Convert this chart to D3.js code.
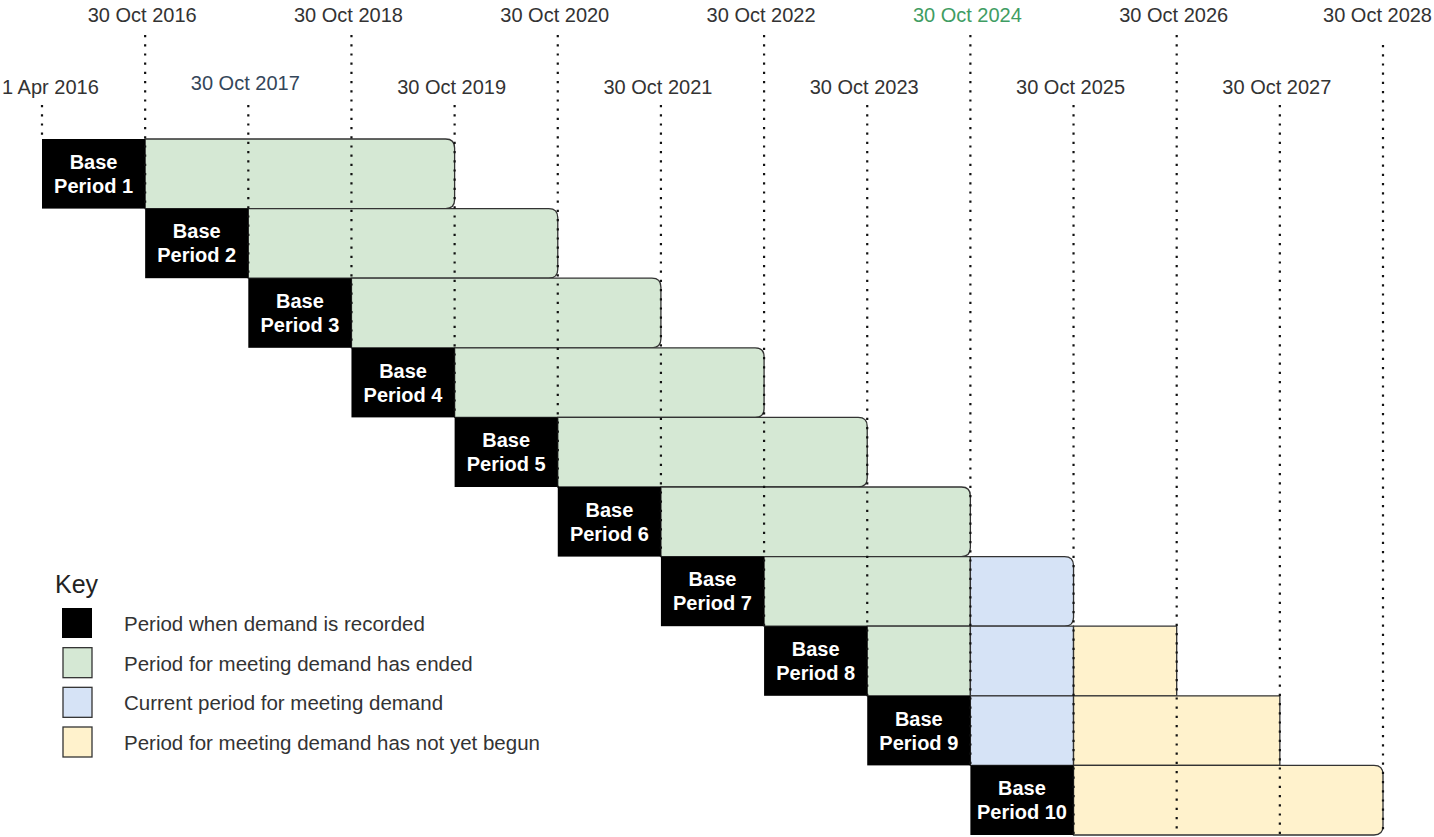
<!DOCTYPE html>
<html>
<head>
<meta charset="utf-8">
<script src="https://cdn.jsdelivr.net/npm/d3@7"></script>
<style>
  body { margin: 0; background: #fff; }
  svg { display: block; font-family: "Liberation Sans", Arial, sans-serif; }
</style>
</head>
<body>
<svg id="chart" width="1434" height="837"></svg>
<script>
(function () {
  'use strict';

  // boundaries along the top of the diagram
  var dateLabels = ['1 Apr 2016', '30 Oct 2016', '30 Oct 2017', '30 Oct 2018', '30 Oct 2019',
    '30 Oct 2020', '30 Oct 2021', '30 Oct 2022', '30 Oct 2023', '30 Oct 2024',
    '30 Oct 2025', '30 Oct 2026', '30 Oct 2027', '30 Oct 2028'];
  var todayLabel = '30 Oct 2024';

  var periodNames = ['Base Period 1', 'Base Period 2', 'Base Period 3', 'Base Period 4', 'Base Period 5',
    'Base Period 6', 'Base Period 7', 'Base Period 8', 'Base Period 9', 'Base Period 10'];

  // when demand is recorded
  var recordedFrom = ['1 Apr 2016', '30 Oct 2016', '30 Oct 2017', '30 Oct 2018', '30 Oct 2019',
    '30 Oct 2020', '30 Oct 2021', '30 Oct 2022', '30 Oct 2023', '30 Oct 2024'];
  var recordedTo = ['30 Oct 2016', '30 Oct 2017', '30 Oct 2018', '30 Oct 2019', '30 Oct 2020',
    '30 Oct 2021', '30 Oct 2022', '30 Oct 2023', '30 Oct 2024', '30 Oct 2025'];

  // meeting demand: each stage runs on from the end of the previous one
  var endedTo = ['30 Oct 2019', '30 Oct 2020', '30 Oct 2021', '30 Oct 2022', '30 Oct 2023',
    '30 Oct 2024', '30 Oct 2024', '30 Oct 2024', null, null];
  var currentTo = [null, null, null, null, null, null, '30 Oct 2025', '30 Oct 2025', '30 Oct 2025', null];
  var notBegunTo = [null, null, null, null, null, null, null, '30 Oct 2026', '30 Oct 2027', '30 Oct 2028'];
  var roundedEnd = [true, true, true, true, true, true, true, false, false, true];

  var keyStatus = ['recorded', 'ended', 'current', 'notBegun'];
  var keyLabels = ['Period when demand is recorded', 'Period for meeting demand has ended',
    'Current period for meeting demand', 'Period for meeting demand has not yet begun'];

  var colors = {
    recorded: '#000000',
    ended: '#d5e8d4',
    current: '#d6e3f6',
    notBegun: '#fff2cc'
  };

  var svg = d3.select('#chart');
  var W = +svg.attr('width');

  var x = d3.scalePoint()
      .domain(dateLabels)
      .range([42, 1383]);

  var y = d3.scaleBand()
      .domain(periodNames)
      .range([139, 835]);

  var bh = y.bandwidth();

  // build the coloured segments per row
  var segments = [];
  periodNames.forEach(function (name, i) {
    var cursor = recordedTo[i];
    var rowSegs = [];
    [['ended', endedTo], ['current', currentTo], ['notBegun', notBegunTo]].forEach(function (s) {
      var to = s[1][i];
      if (to) {
        rowSegs.push({ status: s[0], from: cursor, to: to, row: name, rounded: false });
        cursor = to;
      }
    });
    rowSegs[rowSegs.length - 1].rounded = roundedEnd[i];
    segments = segments.concat(rowSegs);
  });

  function segPath(d) {
    var x0 = x(d.from), x1 = x(d.to), y0 = y(d.row), y1 = y0 + bh;
    var r = d.rounded ? 9 : 0;
    var p = d3.path();
    p.moveTo(x0, y0);
    p.lineTo(x1 - r, y0);
    if (r) p.quadraticCurveTo(x1, y0, x1, y0 + r);
    p.lineTo(x1, y1 - r);
    if (r) p.quadraticCurveTo(x1, y1, x1 - r, y1);
    p.lineTo(x0, y1);
    p.closePath();
    return p.toString();
  }

  svg.append('g')
      .attr('class', 'segments')
    .selectAll('path')
    .data(segments)
    .enter().append('path')
      .attr('d', segPath)
      .attr('fill', function (d) { return colors[d.status]; })
      .attr('stroke', '#333')
      .attr('stroke-width', 1.3);

  svg.append('g')
      .attr('class', 'recorded')
    .selectAll('rect')
    .data(periodNames)
    .enter().append('rect')
      .attr('x', function (d, i) { return x(recordedFrom[i]); })
      .attr('y', function (d) { return y(d); })
      .attr('width', function (d, i) { return x(recordedTo[i]) - x(recordedFrom[i]); })
      .attr('height', bh)
      .attr('fill', colors.recorded);

  // dotted guide lines, drawn over the bars
  var guides = svg.append('g').attr('class', 'guides');
  dateLabels.forEach(function (label, i) {
    var upper = i % 2 === 1;
    var row = recordedFrom.indexOf(label);
    var yEnd = row >= 0 ? y(periodNames[row]) : y.range()[1];
    guides.append('line')
        .attr('x1', x(label))
        .attr('x2', x(label))
        .attr('y1', upper ? (i === dateLabels.length - 1 ? 45 : 35) : 105)
        .attr('y2', yEnd)
        .attr('stroke', '#111')
        .attr('stroke-width', 2.2)
        .attr('stroke-dasharray', '2.2,7');

    var t = svg.append('text')
        .attr('x', x(label) - 3)
        .attr('y', upper ? 22 : (i === 2 ? 90 : 94))
        .attr('text-anchor', 'middle')
        .style('font-size', '20px')
        .style('fill', label === todayLabel ? '#3f9d63' : (i === 2 ? '#34465a' : '#333'))
        .text(label);

    // keep the outer labels inside the picture
    var half = t.node().getComputedTextLength() / 2;
    var cx = Math.max(half + 2, Math.min(W - half - 2, x(label) - 3));
    t.attr('x', cx);
  });

  // white labels in the black boxes
  var boxText = svg.append('g').attr('class', 'box-labels')
    .selectAll('text')
    .data(periodNames)
    .enter().append('text')
      .attr('x', function (d, i) { return (x(recordedFrom[i]) + x(recordedTo[i])) / 2; })
      .attr('y', function (d) { return y(d) + bh / 2; })
      .attr('text-anchor', 'middle')
      .style('font-size', '20px')
      .style('font-weight', 'bold')
      .style('fill', '#fff');

  boxText.append('tspan')
      .attr('dy', '-5')
      .text(function (d) { return d.split(' ')[0]; });
  boxText.append('tspan')
      .attr('x', function (d, i) { return (x(recordedFrom[i]) + x(recordedTo[i])) / 2; })
      .attr('dy', '24')
      .text(function (d) { return d.split(' ').slice(1).join(' '); });

  // key
  var key = svg.append('g').attr('class', 'key').attr('transform', 'translate(55,0)');
  key.append('text')
      .attr('x', 0)
      .attr('y', 593)
      .style('font-size', '25px')
      .style('fill', '#222')
      .text('Key');

  var keyY = d3.scalePoint().domain(keyStatus).range([623, 742]);

  var item = key.selectAll('g.item')
    .data(keyStatus)
    .enter().append('g')
      .attr('class', 'item')
      .attr('transform', function (d) { return 'translate(0,' + keyY(d) + ')'; });

  item.append('rect')
      .attr('x', function (d) { return d === 'recorded' ? 7 : 8; })
      .attr('y', -15)
      .attr('width', function (d) { return d === 'recorded' ? 30 : 29; })
      .attr('height', 30)
      .attr('fill', function (d) { return colors[d]; })
      .attr('stroke', function (d) { return d === 'recorded' ? 'none' : '#333'; })
      .attr('stroke-width', 1.3);

  item.append('text')
      .attr('x', 69)
      .attr('y', 8)
      .style('font-size', '20.5px')
      .style('fill', '#333')
      .text(function (d, i) { return keyLabels[i]; });
})();
</script>
</body>
</html>
